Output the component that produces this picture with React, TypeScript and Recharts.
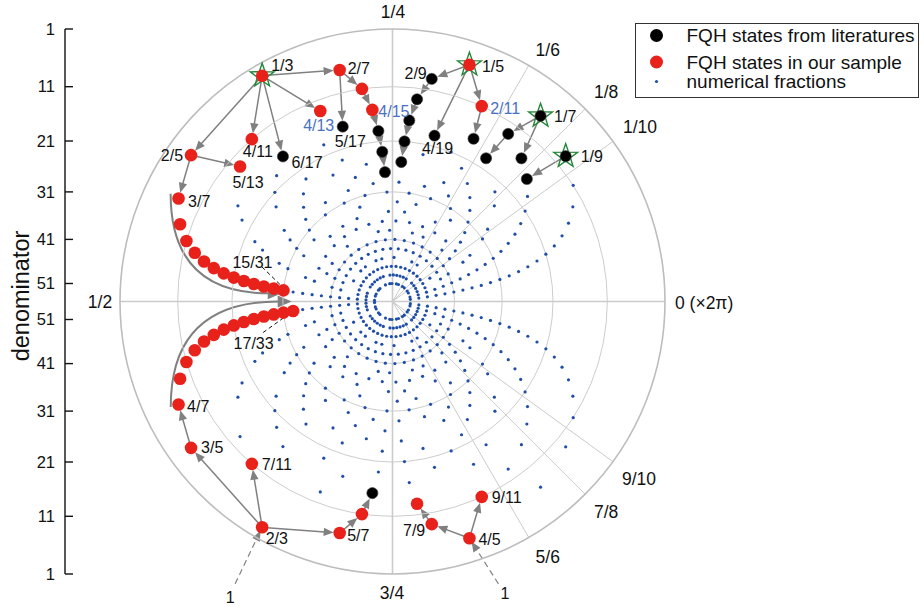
import React from "react";
import { ScatterChart, Scatter, XAxis, YAxis, ReferenceLine, ReferenceDot, Legend } from "recharts";

const CHART_W = 924;
const CHART_H = 607;
const CX = 392.5;
const CY = 301.5;
const AXIS_X = 65;
const FONT = "'Liberation Sans', Arial, Helvetica, sans-serif";

// states found in our sample (red)
const sampleStates = [
  "1/3", "2/7", "3/11", "4/15", "2/5", "4/13", "4/11", "5/13",
  "3/7", "4/9", "5/11", "6/13", "7/15", "8/17", "9/19", "10/21", "11/23", "12/25", "13/27", "14/29", "15/31",
  "4/7", "5/9", "6/11", "7/13", "8/15", "9/17", "10/19", "11/21", "12/23", "13/25", "14/27", "15/29", "16/31", "17/33",
  "1/5", "2/11", "2/3", "3/5", "7/11", "5/7", "8/11", "4/5", "7/9", "10/13", "9/11",
];

// states from literatures (black)
const literatureStates = [
  "5/17", "6/17", "5/19", "6/23", "7/27", "2/9", "3/13", "4/17", "5/21", "6/25",
  "4/19", "3/17", "1/7", "2/13", "3/19", "2/15", "1/9", "2/17", "11/15",
];

const starredStates = ["1/3", "1/5", "1/7", "1/9"];

// odd denominators of the numerical fractions (all reduced p/q)
const numericalDenominators = [3, 5, 7, 9, 11, 13, 15, 17, 19, 21, 23, 25, 27, 29, 31, 33, 35, 37, 39, 41, 43, 45, 47, 49, 51];

const hierarchyArrows = [
  ["1/3", "2/7"], ["1/3", "4/13"], ["1/3", "4/11"], ["1/3", "6/17"], ["1/3", "2/5"],
  ["2/5", "5/13"], ["2/5", "3/7"], ["2/7", "5/17"], ["2/7", "3/11"], ["3/11", "4/15"],
  ["4/15", "5/19"], ["5/19", "6/23"], ["6/23", "7/27"],
  ["1/5", "2/9"], ["2/9", "3/13"], ["3/13", "4/17"], ["4/17", "5/21"], ["5/21", "6/25"],
  ["1/5", "4/19"], ["1/5", "2/11"], ["2/11", "3/17"],
  ["1/7", "2/13"], ["2/13", "3/19"], ["1/7", "2/15"], ["1/9", "2/17"],
  ["2/3", "3/5"], ["2/3", "7/11"], ["2/3", "5/7"], ["3/5", "4/7"],
  ["5/7", "8/11"], ["8/11", "11/15"], ["4/5", "7/9"], ["7/9", "10/13"], ["4/5", "9/11"],
];

const stateLabels = [
  "1/3", "2/7", "4/13", "4/15", "5/17", "4/11", "6/17", "2/5", "5/13", "3/7", "15/31", "17/33",
  "4/7", "3/5", "7/11", "2/3", "5/7", "7/9", "4/5", "9/11", "1/5", "2/9", "2/11", "4/19", "1/7", "1/9",
];
const blueLabels = ["4/13", "4/15", "2/11"];

// [angle fraction, denominator] of the two sweeping guide arrows toward 1/2
const guideArrows = [
  [[0.428, 5.4], [0.4883, 30.7]],
  [[0.5706, 5.6], [0.5, 32.8]],
];

const gridDenominators = [1, 11, 21, 31, 41];
const denominatorTicks = [1, 11, 21, 31, 41, 51];
const axisSpokes = [0, 0.25];
const rays = [1 / 6, 1 / 8, 1 / 10, 9 / 10, 7 / 8, 5 / 6];
const rimLabels = [
  { f: 0.25, text: "1/4" }, { f: 1 / 6, text: "1/6" }, { f: 1 / 8, text: "1/8" }, { f: 1 / 10, text: "1/10" },
  { f: 0, text: "0 (\u00d72\u03c0)" }, { f: 9 / 10, text: "9/10" }, { f: 7 / 8, text: "7/8" },
  { f: 5 / 6, text: "5/6" }, { f: 0.75, text: "3/4" }, { f: 0.5, text: "1/2" },
];

const legendNames = ["FQH states from literatures", "FQH states in our sample", "numerical fractions"];
const legendColors = ["#000000", "#E8221B", "#1F4EA8"];

// ---- layout (pixel offsets of the text relative to its point) ----
const labelPlacement: Record<string, [number, number, string]> = {
  "1/3": [9, -10.5, "start"], "2/7": [8, -1.5, "start"], "4/13": [14, 14, "end"], "4/15": [6, 1.5, "start"],
  "5/17": [7.5, 14.5, "middle"], "4/11": [6, 12.5, "middle"], "6/17": [8.5, 5.5, "start"], "2/5": [-8, 0.5, "end"],
  "5/13": [8, 15.5, "middle"], "3/7": [9.5, 2.5, "start"], "15/31": [-31, -28.5, "middle"], "17/33": [-39.5, 32.5, "middle"],
  "4/7": [8.5, 1.5, "start"], "3/5": [10, 0, "start"], "7/11": [10, 0.5, "start"], "2/3": [3.5, 11.5, "start"],
  "5/7": [7.5, 2.5, "start"], "7/9": [-6.5, 6, "end"], "4/5": [9, 1, "start"], "9/11": [10, 1, "start"],
  "1/5": [12.5, 1.5, "start"], "2/9": [-5, -5, "end"], "2/11": [8.5, 2.5, "start"], "4/19": [3, 13, "middle"],
  "1/7": [13.5, 0.5, "start"], "1/9": [15, 0, "start"],
};
const rimPlacement: Record<string, [number, number, string]> = {
  "1/4": [0.5, -17, "middle"], "1/6": [19, -15.5, "middle"], "1/8": [21, -16.5, "middle"], "1/10": [27, -14.5, "middle"],
  "0 (\u00d72\u03c0)": [10, 1.5, "start"], "9/10": [26, 17.5, "middle"], "7/8": [21, 17.5, "middle"],
  "5/6": [19, 19, "middle"], "3/4": [-0.5, 19, "middle"], "1/2": [-20, 0.5, "middle"],
};
const leaderLines: Record<string, number[][]> = {
  "15/31": [[-21.5, -23.5], [-2, -4.5]],
  "17/33": [[-30, 21.5], [-3.5, 2.5]],
};
const unityArrows = [
  { to: "2/3", start: [-27, 56.5], label: [-32, 70] },
  { to: "4/5", start: [29, 45.5], label: [35.5, 55.5] },
];

// radial position of a denominator: 1 on the rim, 51 next to the centre
const radiusOf = (q: number) => 272.5 - 5.94 * (q - 1) + 0.017 * (q - 1) ** 2;
const polar = (frac: number, q: number) => {
  const t = frac * 2 * Math.PI;
  const r = radiusOf(q);
  return { x: CX + r * Math.cos(t), y: CY - r * Math.sin(t) };
};
const parse = (s: string) => {
  const [p, q] = s.split("/").map(Number);
  return { p, q };
};
const posOf = (s: string) => {
  const { p, q } = parse(s);
  return polar(p / q, q);
};
const gcd = (a: number, b: number): number => (b === 0 ? a : gcd(b, a % b));

const numericalData = numericalDenominators.flatMap((q) =>
  Array.from({ length: q - 1 }, (_, i) => i + 1)
    .filter((p) => gcd(p, q) === 1)
    .map((p) => polar(p / q, q))
);
const sampleData = sampleStates.map((s) => ({ ...posOf(s), name: s }));
const literatureData = literatureStates.map((s) => ({ ...posOf(s), name: s }));
const starData = starredStates.map((s) => ({ ...posOf(s), name: s }));

const labelData = [
  ...stateLabels.map((s) => {
    const [dx, dy, anchor] = labelPlacement[s];
    return { ...posOf(s), text: s, dx, dy, anchor, color: blueLabels.includes(s) ? "#4A72C4" : "#111", size: 16 };
  }),
  ...rimLabels.map((l) => {
    const [dx, dy, anchor] = rimPlacement[l.text];
    return { ...polar(l.f, 1), text: l.text, dx, dy, anchor, color: "#111", size: 17.5 };
  }),
  ...unityArrows.map((a) => ({ ...posOf(a.to), text: "1", dx: a.label[0], dy: a.label[1], anchor: "middle", color: "#111", size: 16 })),
  ...denominatorTicks.flatMap((q) => [
    { x: AXIS_X, y: CY - radiusOf(q), text: String(q), dx: -10, dy: 0, anchor: "end", color: "#111", size: 16.5 },
    { x: AXIS_X, y: CY + radiusOf(q), text: String(q), dx: -10, dy: 0, anchor: "end", color: "#111", size: 16.5 },
  ]),
];

const renderArrow = (color: string, width: number, head: number, trimStart: number, trimEnd: number, dash?: string) =>
  (props: any) => {
    const { x1, y1, x2, y2 } = props;
    const len = Math.hypot(x2 - x1, y2 - y1);
    const ux = (x2 - x1) / len;
    const uy = (y2 - y1) / len;
    const sx = x1 + ux * trimStart;
    const sy = y1 + uy * trimStart;
    const tx = x2 - ux * trimEnd;
    const ty = y2 - uy * trimEnd;
    const bx = tx - ux * head;
    const by = ty - uy * head;
    const hw = head * 0.42;
    return (
      <g>
        <line x1={sx} y1={sy} x2={bx + ux * 1} y2={by + uy * 1} stroke={color} strokeWidth={width} strokeDasharray={dash} />
        <polygon points={`${tx},${ty} ${bx - uy * hw},${by + ux * hw} ${bx + uy * hw},${by - ux * hw}`} fill={color} />
      </g>
    );
  };

const renderCurve = (props: any) => {
  const { x1, y1, x2, y2 } = props;
  const qx = x1;
  const qy = y2;
  const ux0 = x2 - qx;
  const uy0 = y2 - qy;
  const l = Math.hypot(ux0, uy0) || 1;
  const ux = ux0 / l;
  const uy = uy0 / l;
  const head = 14;
  const hw = 6;
  const bx = x2 - ux * head;
  const by = y2 - uy * head;
  return (
    <g>
      <path d={`M${x1},${y1} Q${qx},${qy} ${bx + ux},${by + uy}`} fill="none" stroke="#808080" strokeWidth={2} />
      <polygon points={`${x2},${y2} ${bx - uy * hw},${by + ux * hw} ${bx + uy * hw},${by - ux * hw}`} fill="#808080" />
    </g>
  );
};

const starShape = (props: any) => {
  const { cx, cy } = props;
  const pts = Array.from({ length: 10 }, (_, i) => {
    const a = (-90 + i * 36) * (Math.PI / 180);
    const r = i % 2 === 0 ? 12.5 : 5;
    return `${cx + r * Math.cos(a)},${cy + r * Math.sin(a)}`;
  }).join(" ");
  return <polygon points={pts} fill="none" stroke="#23883A" strokeWidth={1.4} />;
};

const textShape = (props: any) => {
  const { cx, cy, payload } = props;
  return (
    <text x={cx + payload.dx} y={cy + payload.dy} dy="0.35em" textAnchor={payload.anchor}
      fontSize={payload.size} fontFamily={FONT} fill={payload.color}>
      {payload.text}
    </text>
  );
};

const LegendBox = () => (
  <svg width={284} height={76} style={{ display: "block" }}>
    <rect x={0.5} y={0.5} width={283} height={74} fill="#fff" stroke="#333" strokeWidth={1} />
    {legendNames.map((name, i) => {
      const y = [12.5, 39, 58.5][i];
      return (
        <g key={name}>
          {i < 2 ? <circle cx={21.5} cy={y} r={6.5} fill={legendColors[i]} /> : <circle cx={21.5} cy={y} r={1.6} fill={legendColors[i]} />}
          <text x={51.5} y={y} dy="0.35em" fontSize={19} fontFamily={FONT} fill="#111">{name}</text>
        </g>
      );
    })}
  </svg>
);

export default function App() {
  const rim = radiusOf(1);
  return (
    <div style={{ position: "absolute", left: 0, top: 0, width: CHART_W, height: CHART_H, background: "#fff" }}>
      <ScatterChart width={CHART_W} height={CHART_H} margin={{ top: 0, right: 0, bottom: 0, left: 0 }}>
        <XAxis type="number" dataKey="x" domain={[0, CHART_W]} allowDataOverflow hide />
        <YAxis type="number" dataKey="y" domain={[0, CHART_H]} allowDataOverflow reversed hide />

        {gridDenominators.map((q) => (
          <ReferenceDot key={`ring-${q}`} x={CX} y={CY} r={radiusOf(q)} fill="none"
            stroke={q === 1 ? "#BDBDBD" : "#CDCDCD"} strokeWidth={q === 1 ? 1.6 : 1} ifOverflow="visible" />
        ))}
        {axisSpokes.map((f) => {
          const a = polar(f, 1);
          const b = polar(f + 0.5, 1);
          return (
            <ReferenceLine key={`spoke-${f}`} segment={[{ x: a.x, y: a.y }, { x: b.x, y: b.y }]}
              stroke="#CBCBCB" strokeWidth={1.6} ifOverflow="visible" />
          );
        })}
        {rays.map((f) => {
          const b = polar(f, 1);
          return (
            <ReferenceLine key={`ray-${f}`} segment={[{ x: CX, y: CY }, { x: b.x, y: b.y }]}
              stroke="#CBCBCB" strokeWidth={1} ifOverflow="visible" />
          );
        })}

        {/* denominator axis */}
        <ReferenceLine segment={[{ x: AXIS_X, y: CY - rim }, { x: AXIS_X, y: CY + rim }]} stroke="#111" strokeWidth={1.4} ifOverflow="visible" />
        {denominatorTicks.flatMap((q) => [CY - radiusOf(q), CY + radiusOf(q)]).map((y, i) => (
          <ReferenceLine key={`tick-${i}`} segment={[{ x: AXIS_X, y }, { x: AXIS_X + 8, y }]} stroke="#111" strokeWidth={1.4} ifOverflow="visible" />
        ))}

        <Scatter data={numericalData} fill="#1F4EA8" isAnimationActive={false}
          shape={(p: any) => <circle cx={p.cx} cy={p.cy} r={1.6} fill="#1F4EA8" />} />

        {hierarchyArrows.map(([from, to]) => {
          const a = posOf(from);
          const b = posOf(to);
          return (
            <ReferenceLine key={`arr-${from}-${to}`} segment={[{ x: a.x, y: a.y }, { x: b.x, y: b.y }]}
              ifOverflow="visible" shape={renderArrow("#808080", 1.5, 10, 5, 6)} />
          );
        })}
        {guideArrows.map(([s, e], i) => {
          const a = polar(s[0], s[1]);
          const b = polar(e[0], e[1]);
          return (
            <ReferenceLine key={`guide-${i}`} segment={[{ x: a.x, y: a.y }, { x: b.x, y: b.y }]}
              ifOverflow="visible" shape={renderCurve} />
          );
        })}
        {unityArrows.map((u) => {
          const b = posOf(u.to);
          return (
            <ReferenceLine key={`unity-${u.to}`} segment={[{ x: b.x + u.start[0], y: b.y + u.start[1] }, { x: b.x, y: b.y }]}
              ifOverflow="visible" shape={renderArrow("#808080", 1.2, 10, 0, 4, "6 4")} />
          );
        })}
        {Object.entries(leaderLines).map(([s, seg]) => {
          const p = posOf(s);
          return (
            <ReferenceLine key={`lead-${s}`} segment={[{ x: p.x + seg[0][0], y: p.y + seg[0][1] }, { x: p.x + seg[1][0], y: p.y + seg[1][1] }]}
              stroke="#111" strokeWidth={1} strokeDasharray="4 3" ifOverflow="visible" />
          );
        })}

        <Scatter data={starData} isAnimationActive={false} shape={starShape} />
        <Scatter data={sampleData} fill="#E8221B" isAnimationActive={false}
          shape={(p: any) => <circle cx={p.cx} cy={p.cy} r={6.3} fill="#E8221B" />} />
        <Scatter data={literatureData} fill="#000" isAnimationActive={false}
          shape={(p: any) => <circle cx={p.cx} cy={p.cy} r={5.6} fill="#000" stroke="#444" strokeWidth={0.6} />} />
        <Scatter data={labelData} isAnimationActive={false} shape={textShape} />

        <Legend layout="vertical" align="center" verticalAlign="middle"
          wrapperStyle={{ left: 635, top: 23, width: 284, height: 76 }} content={() => <LegendBox />} />
      </ScatterChart>
      <div style={{
        position: "absolute", left: 21, top: 296, transform: "translate(-50%, -50%) rotate(-90deg)",
        fontFamily: FONT, fontSize: 23.5, color: "#111", whiteSpace: "nowrap",
      }}>
        denominator
      </div>
    </div>
  );
}
